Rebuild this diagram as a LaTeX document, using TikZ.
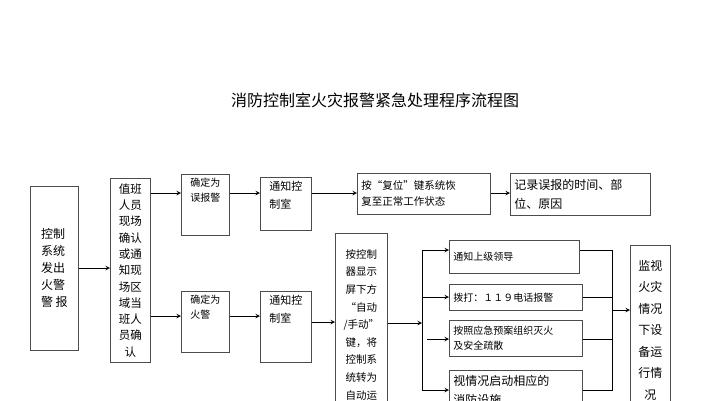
\documentclass[tikz,border=0pt]{standalone}
\usepackage{fontspec}
\setmainfont{Noto Sans CJK SC}
\usetikzlibrary{arrows}
\tikzstyle{box} = [rectangle, draw=black!70, line width=0.8pt, inner sep=4pt, font=\fontsize{10.5}{18}\selectfont, align=left, anchor=north west]
\tikzstyle{arrow} = [line width=1pt,->,>=stealth]

\begin{document}
\begin{tikzpicture}[x=1pt,y=-1pt]
    \useasboundingbox (0,0) rectangle (707,400);
    \clip (0,0) rectangle (707,400);

        % Title
        \node (title) at (375,100) {\fontsize{16}{18}\selectfont 消防控制室火灾报警紧急处理程序流程图};

        % Nodes
        \node (alarm) [box, minimum width=48pt, minimum height=164pt, font=\fontsize{12}{17}\selectfont] at (30,186) {控制\\系统\\发出\\火警\\警\ 报};
        \node (check) [box, minimum width=40pt, minimum height=184pt, inner sep=2pt, font=\fontsize{11.5}{16.3}\selectfont, align=center] at (110,178) {值班\\人员\\现场\\确认\\或通\\知现\\场区\\域当\\班人\\员确\\认};
        \node (falseAlarm) [box, minimum width=48pt, minimum height=58pt, font=\fontsize{10}{15}\selectfont] at (181,174) {确定为\\误报警\\ \\};
        \node (fireAlarm) [box, minimum width=48pt, minimum height=59pt, font=\fontsize{10}{15}\selectfont] at (181,291) {确定为\\火警\\ \\};
        \node (notify1) [box, minimum width=51pt, minimum height=53pt, font=\fontsize{11}{18}\selectfont] at (260,177) {通知控\\制室\\};
        \node (notify2) [box, minimum width=51pt, minimum height=59pt, font=\fontsize{11}{18}\selectfont] at (260,291) {通知控\\制室\\ \\};
        \node (reset) [box, text width=125pt, minimum height=41pt, font=\fontsize{10.5}{16}\selectfont] at (357,173) {按“复位”键系统恢\\复至正常工作状态};
        \node (record) [box, text width=132pt, minimum height=42pt, font=\fontsize{12}{19}\selectfont] at (510,173) {记录误报的时间、部\\位、原因};
        \node (auto) [box, minimum width=52pt, minimum height=200pt, inner sep=2pt, font=\fontsize{10.5}{17.6}\selectfont, align=center] at (335,233) {按控制\\器显示\\屏下方\\“自动\\/手动”\\键，将\\控制系\\统转为\\自动运\\行状态};
        \node (leader) [box, text width=122pt, minimum height=33pt, font=\fontsize{10}{15}\selectfont] at (449,240) {通知上级领导\\};
        \node (call) [box, text width=125pt, minimum height=26pt, font=\fontsize{10}{15}\selectfont] at (449,284) {拨打：１１９电话报警};
        \node (evacuate) [box, text width=125pt, minimum height=36pt, font=\fontsize{10}{15}\selectfont] at (449,320) {按照应急预案组织灭火\\及安全疏散};
        \node (facility) [box, text width=125pt, minimum height=40pt, font=\fontsize{12}{19}\selectfont] at (449,370) {视情况启动相应的\\消防设施};
        \node (monitor) [box, minimum width=40pt, minimum height=170pt, inner sep=3pt, font=\fontsize{12}{21.5}\selectfont, align=center] at (630,245) {监视\\火灾\\情况\\下设\\备运\\行情\\况};

        % Junctions
        \coordinate (splitTop) at (422,250);
        \coordinate (splitBot) at (422,390);
        \coordinate (joinTop) at (612,250);
        \coordinate (joinBot) at (612,390);

        % Arrows
        \draw [arrow] (alarm.east |- 0,268) -- (check.west |- 0,268);
        \draw [arrow] (check.east |- 0,193) -- (falseAlarm.west |- 0,193);
        \draw [arrow] (check.east |- 0,316) -- (fireAlarm.west |- 0,316);
        \draw [arrow] (falseAlarm.east |- 0,193) -- (notify1.west |- 0,193);
        \draw [arrow] (fireAlarm.east |- 0,316) -- (notify2.west |- 0,316);
        \draw [arrow] (notify1.east |- 0,193) -- (reset.west |- 0,193);
        \draw [arrow] (reset.east |- 0,193) -- (record.west |- 0,193);
        \draw [arrow] (notify2.east |- 0,322) -- (auto.west |- 0,322);
        \draw [arrow] (auto.east |- 0,323) -- (splitTop |- 0,323);
        \draw [line width=1pt] (splitTop) -- (splitBot);
        \draw [arrow] (splitTop) -- (leader.west |- splitTop);
        \draw [arrow] (splitTop |- 0,297) -- (call.west |- 0,297);
        \draw [arrow] (427,339) -- (evacuate.west |- 0,339);
        \draw [arrow] (splitBot) -- (facility.west |- splitBot);
        \draw [line width=1pt] (leader.east |- joinTop) -- (joinTop) -- (joinBot) -- (facility.east |- joinBot);
        \draw [line width=1pt] (call.east |- 0,297) -- (joinTop |- 0,297);
        \draw [line width=1pt] (evacuate.east |- 0,339) -- (joinTop |- 0,339);
        \draw [arrow] (joinTop |- 0,310) -- (monitor.west |- 0,310);

\end{tikzpicture}
\end{document}
